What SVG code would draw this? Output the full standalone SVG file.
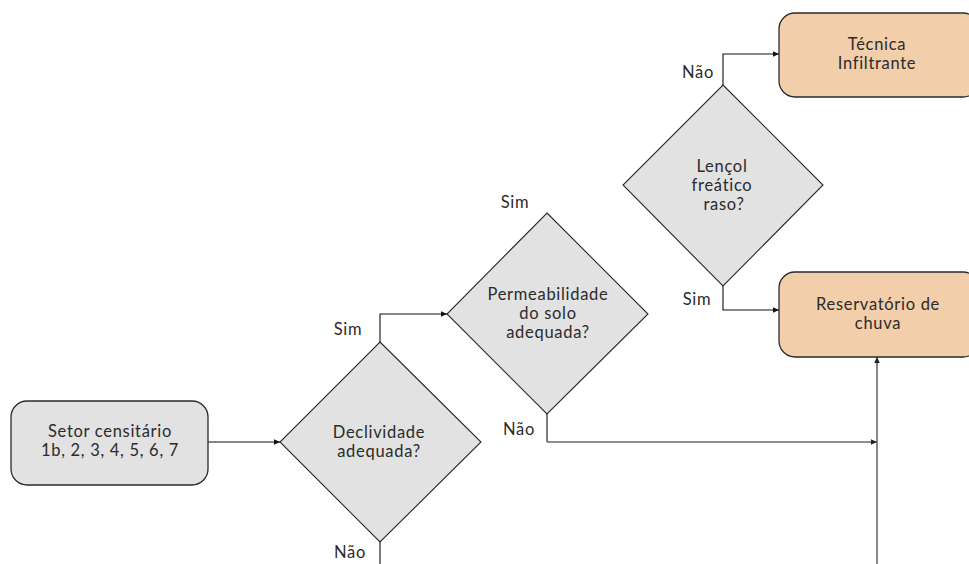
<svg xmlns="http://www.w3.org/2000/svg" width="969" height="564" viewBox="0 0 969 564">
  <defs>
    <marker id="arrow" markerWidth="8" markerHeight="8" refX="7" refY="4" orient="auto" markerUnits="userSpaceOnUse">
      <path d="M1,1.2 L7,4 L1,6.8 Z" fill="#111"/>
    </marker>
    <marker id="arrow-grey" markerWidth="8" markerHeight="8" refX="7" refY="4" orient="auto" markerUnits="userSpaceOnUse">
      <path d="M1,1.2 L7,4 L1,6.8 Z" fill="#222"/>
    </marker>
    <style>
      .box { fill: #e1e2e1; stroke: #2a2a2a; stroke-width: 1.3; }
      .result { fill: #f2ceab; stroke: #2a2a2a; stroke-width: 1.3; }
      .decision { fill: #e1e2e1; stroke: #2a2a2a; stroke-width: 1.1; }
      .lbl { font-family: "Lato", "Open Sans", "DejaVu Sans", sans-serif; font-size: 16.5px; letter-spacing: 0.7px; fill: #2b2b2b; text-anchor: middle; }
      .edge { fill: none; stroke: #111; stroke-width: 1.1; }
      .edge-grey { fill: none; stroke: #6a6a6a; stroke-width: 1.6; }
    </style>
  </defs>

  <rect width="969" height="564" fill="#ffffff"/>

  <!-- connectors -->
  <g id="connectors">
    <path class="edge" d="M208,442 H280" marker-end="url(#arrow)"/>
    <path class="edge" d="M380,342 V314 H447" marker-end="url(#arrow)"/>
    <path class="edge" d="M380,542 V564"/>
    <path class="edge" d="M547,414 V442"/>
    <path class="edge-grey" d="M547,442 H877" marker-end="url(#arrow-grey)"/>
    <path class="edge-grey" d="M877,564 V357" marker-end="url(#arrow-grey)"/>
    <path class="edge" d="M723,85 V54 H779" marker-end="url(#arrow)"/>
    <path class="edge" d="M723,286 V310 H779" marker-end="url(#arrow)"/>
    <text class="lbl" x="348" y="335">Sim</text>
    <text class="lbl" x="350" y="558">Não</text>
    <text class="lbl" x="515" y="208">Sim</text>
    <text class="lbl" x="519" y="435">Não</text>
    <text class="lbl" x="698" y="78">Não</text>
    <text class="lbl" x="697" y="305">Sim</text>
  </g>

  <g id="setor">
    <rect class="box" x="11" y="401" width="197" height="84" rx="16"/>
    <text class="lbl" x="110" y="437">Setor censitário</text>
    <text class="lbl" x="110" y="456">1b, 2, 3, 4, 5, 6, 7</text>
  </g>

  <g id="declividade">
    <polygon class="decision" points="380,342 481,442 380,542 280,442"/>
    <text class="lbl" x="379" y="438">Declividade</text>
    <text class="lbl" x="379" y="457">adequada?</text>
  </g>

  <g id="permeabilidade">
    <polygon class="decision" points="547,213 648,314 547,414 447,314"/>
    <text class="lbl" x="548" y="300">Permeabilidade</text>
    <text class="lbl" x="548" y="319">do solo</text>
    <text class="lbl" x="548" y="338">adequada?</text>
  </g>

  <g id="lencol">
    <polygon class="decision" points="723,85 823,185 723,286 623,185"/>
    <text class="lbl" x="722" y="172">Lençol</text>
    <text class="lbl" x="722" y="191">freático</text>
    <text class="lbl" x="724" y="210">raso?</text>
  </g>

  <g id="tecnica">
    <rect class="result" x="779" y="13" width="200" height="84" rx="16"/>
    <text class="lbl" x="877" y="50">Técnica</text>
    <text class="lbl" x="877" y="69">Infiltrante</text>
  </g>

  <g id="reservatorio">
    <rect class="result" x="779" y="272" width="200" height="85" rx="16"/>
    <text class="lbl" x="878" y="310">Reservatório de</text>
    <text class="lbl" x="878" y="329">chuva</text>
  </g>
</svg>
